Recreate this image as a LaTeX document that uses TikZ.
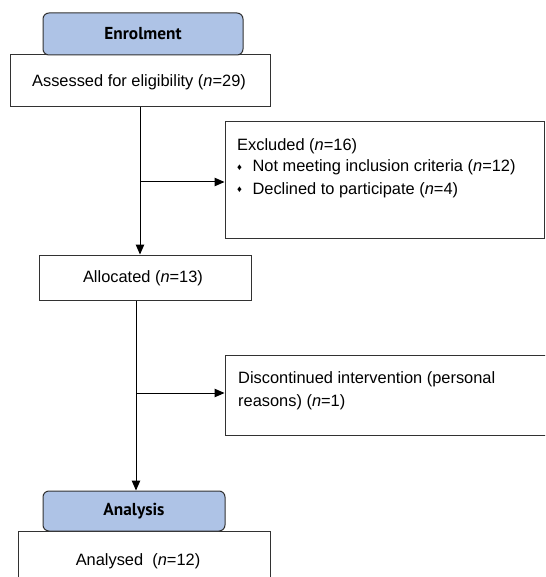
\documentclass[tikz,border=0pt]{standalone}
\usepackage{fontspec}
\setmainfont{Liberation Sans}
\newfontfamily\headfont{PT Sans}
\usetikzlibrary{arrows.meta}
\definecolor{headblue}{RGB}{174,195,230}
\definecolor{boxline}{RGB}{50,50,50}
\tikzset{
  x=1pt, y=-1pt,
  plainbox/.style={draw=boxline, line width=1pt, fill=white, inner sep=0pt},
  headbox/.style={draw=boxline, line width=1pt, fill=headblue, rounded corners=6pt, inner sep=0pt,
    font=\headfont\bfseries\fontsize{17.3}{19}\selectfont},
  bodytxt/.style={inner sep=0pt, font=\fontsize{16.4}{21.5}\selectfont},
  conn/.style={draw=black, line width=1pt},
  arr/.style={conn, -{Triangle[length=10pt,width=8.5pt]}}
}
\newcommand{\dmd}{\raisebox{1.8pt}{\fontsize{9.5}{9.5}\selectfont ♦}}
\begin{document}
\begin{tikzpicture}
\useasboundingbox (0,0) rectangle (545,577);
\clip (0,0) rectangle (545,577);
% boxes
\node[plainbox, minimum width=260pt, minimum height=52pt] (assess) at (140,81) {};
\node[headbox, minimum width=200pt, minimum height=42pt] (enrol) at (143,34) {Enrolment};
\node[bodytxt] (assesst) at (139,82) {Assessed for eligibility (\textit{n}=29)};
\node[plainbox, minimum width=319pt, minimum height=116pt] (excl) at (384.5,180) {};
\node[bodytxt, anchor=base west] (exc1) at (237,151) {Excluded (\textit{n}=16)};
\node[bodytxt, anchor=base west] (exc2) at (237,172) {\dmd\hspace{10.5pt}Not meeting inclusion criteria (\textit{n}=12)};
\node[bodytxt, anchor=base west] (exc3) at (237,194) {\dmd\hspace{10.5pt}Declined to participate (\textit{n}=4)};
\node[plainbox, minimum width=212pt, minimum height=45pt] (alloc) at (145,277.5) {};
\node[bodytxt] (alloct) at (143,278) {Allocated (\textit{n}=13)};
\node[plainbox, minimum width=350pt, minimum height=80pt] (disc) at (400,395) {};
\node[bodytxt, anchor=base west] (disc1) at (238,383) {Discontinued intervention (personal};
\node[bodytxt, anchor=base west] (disc2) at (238,406) {reasons) (\textit{n}=1)};
\node[plainbox, minimum width=252pt, minimum height=69pt] (anald) at (144,565.5) {};
\node[headbox, minimum width=182pt, minimum height=40pt] (anal) at (134,511) {Analysis};
\node[bodytxt] (analdt) at (138,561) {Analysed\ \ (\textit{n}=12)};
% connectors
\coordinate (b1) at (140,182);
\coordinate (b2) at (136,393);
\draw[arr] (assess.south -| b1) -- (b1 |- alloc.north);
\draw[arr] (b1) -- (b1 -| excl.west);
\draw[arr] (alloc.south -| b2) -- (b2 |- anal.north);
\draw[arr] (b2) -- (b2 -| disc.west);
\end{tikzpicture}
\end{document}
